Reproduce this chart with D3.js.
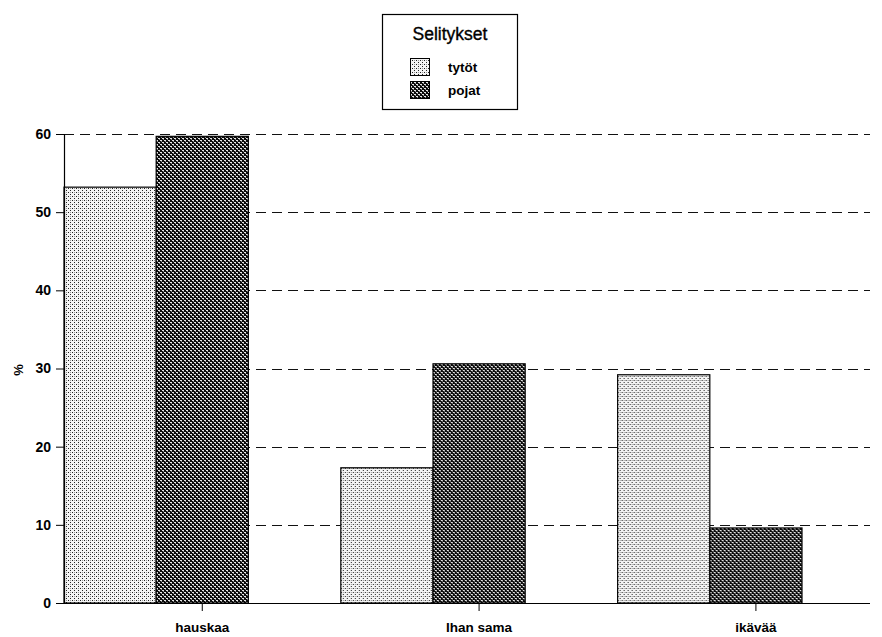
<!DOCTYPE html>
<html>
<head>
<meta charset="utf-8">
<script src="https://cdn.jsdelivr.net/npm/d3@7"></script>
<style>
  html, body { margin: 0; padding: 0; background: #fff; }
  svg { display: block; font-family: "Liberation Sans", Arial, sans-serif; }
</style>
</head>
<body>
<svg id="chart" width="882" height="637"></svg>
<script>
// Answers by category, percent of girls (tytöt) and boys (pojat)
const categories = ["hauskaa", "Ihan sama", "ikävää"];
const seriesNames = ["tytöt", "pojat"];
const tytot = [53.2, 17.3, 29.2];
const pojat = [59.7, 30.6, 9.6];
const yTicks = [0, 10, 20, 30, 40, 50, 60];
const legendTitle = "Selitykset";
const yLabel = "%";

const svg = d3.select("#chart");
const defs = svg.append("defs");

// light dotted fill
const pLight = defs.append("pattern").attr("id", "fillLight")
  .attr("patternUnits", "userSpaceOnUse").attr("width", 4).attr("height", 4);
pLight.append("rect").attr("width", 4).attr("height", 4).attr("fill", "#f4f4f4");
pLight.append("rect").attr("x", 0).attr("y", 0).attr("width", 1).attr("height", 1).attr("fill", "#222");
pLight.append("rect").attr("x", 2).attr("y", 2).attr("width", 1).attr("height", 1).attr("fill", "#222");
pLight.append("rect").attr("x", 2).attr("y", 0).attr("width", 1).attr("height", 1).attr("fill", "#999");

// dark checkered fill
const pDark = defs.append("pattern").attr("id", "fillDark")
  .attr("patternUnits", "userSpaceOnUse").attr("width", 4).attr("height", 4);
pDark.append("rect").attr("width", 4).attr("height", 4).attr("fill", "#0a0a0a");
pDark.append("rect").attr("x", 0).attr("y", 0).attr("width", 2).attr("height", 1).attr("fill", "#e6e6e6");
pDark.append("rect").attr("x", 2).attr("y", 2).attr("width", 2).attr("height", 1).attr("fill", "#e6e6e6");
pDark.append("rect").attr("x", 1).attr("y", 1).attr("width", 1).attr("height", 1).attr("fill", "#888");
pDark.append("rect").attr("x", 3).attr("y", 3).attr("width", 1).attr("height", 1).attr("fill", "#888");

const fills = ["url(#fillLight)", "url(#fillDark)"];
const series = [tytot, pojat];

const plotLeft = 64, plotRight = 870, plotTop = 134, plotBottom = 603;

const y = d3.scaleLinear().domain([0, 60]).range([plotBottom, plotTop]);
const x0 = d3.scaleBand().domain(categories).range([plotLeft, 802])
  .paddingInner(0.334).paddingOuter(0);
const x1 = d3.scaleBand().domain(seriesNames).range([0, x0.bandwidth()]).padding(0);

// dashed gridlines
svg.append("g").selectAll("line")
  .data(yTicks.filter(d => d > 0))
  .join("line")
  .attr("x1", plotLeft).attr("x2", plotRight)
  .attr("y1", d => Math.round(y(d)) + 0.5).attr("y2", d => Math.round(y(d)) + 0.5)
  .attr("stroke", "#111").attr("stroke-width", 1.1)
  .attr("stroke-dasharray", "10,6");

// bars
const groups = svg.append("g").selectAll("g")
  .data(categories)
  .join("g")
  .attr("transform", d => `translate(${x0(d)},0)`);

groups.selectAll("rect")
  .data((c, i) => seriesNames.map((s, j) => ({ s, v: series[j][i], j })))
  .join("rect")
  .attr("x", d => x1(d.s))
  .attr("y", d => y(d.v))
  .attr("width", x1.bandwidth())
  .attr("height", d => plotBottom - y(d.v))
  .attr("fill", d => fills[d.j])
  .attr("stroke", "#000")
  .attr("stroke-width", 1.2);

// baseline across the plot
svg.append("line")
  .attr("x1", plotLeft).attr("x2", plotRight)
  .attr("y1", plotBottom + 0.5).attr("y2", plotBottom + 0.5)
  .attr("stroke", "#000").attr("stroke-width", 1.2);

// y axis
const yAxis = svg.append("g")
  .attr("transform", `translate(${plotLeft},0)`)
  .call(d3.axisLeft(y).tickValues(yTicks).tickSize(8).tickPadding(5).tickFormat(d3.format("d")));
yAxis.select(".domain").attr("stroke-width", 1.2);
yAxis.selectAll("text").attr("font-size", 14).attr("font-weight", "bold")
  .attr("font-family", "Liberation Sans, Arial, sans-serif").attr("fill", "#000");

// category ticks sit under the second bar of each group
const xTicks = svg.append("g");
xTicks.selectAll("line")
  .data(categories)
  .join("line")
  .attr("x1", d => x0(d) + x1("pojat") + x1.bandwidth() / 2)
  .attr("x2", d => x0(d) + x1("pojat") + x1.bandwidth() / 2)
  .attr("y1", plotBottom).attr("y2", plotBottom + 8)
  .attr("stroke", "#000").attr("stroke-width", 1);
xTicks.selectAll("text")
  .data(categories)
  .join("text")
  .attr("x", d => x0(d) + x1("pojat") + x1.bandwidth() / 2)
  .attr("y", 632)
  .attr("text-anchor", "middle")
  .attr("font-size", 13.5).attr("font-weight", "bold")
  .text(d => d);

// y label
svg.append("text")
  .attr("transform", "translate(23,370) rotate(-90)")
  .attr("text-anchor", "middle")
  .attr("font-size", 13).attr("font-weight", "bold")
  .text(yLabel);

// legend
const lg = svg.append("g");
lg.append("rect").attr("x", 382.5).attr("y", 14.5).attr("width", 135).attr("height", 95)
  .attr("fill", "#fff").attr("stroke", "#000").attr("stroke-width", 1.2);
lg.append("text").attr("x", 450).attr("y", 40).attr("text-anchor", "middle")
  .attr("font-size", 17.5).attr("stroke", "#000").attr("stroke-width", 0.35)
  .text(legendTitle);
seriesNames.forEach((s, i) => {
  lg.append("rect").attr("x", 410.5).attr("y", 58.5 + i * 23).attr("width", 19).attr("height", 17)
    .attr("fill", fills[i]).attr("stroke", "#000").attr("stroke-width", 1);
  lg.append("text").attr("x", 448).attr("y", 72 + i * 23)
    .attr("font-size", 13.5).attr("font-weight", "bold").text(s);
});
</script>
</body>
</html>
